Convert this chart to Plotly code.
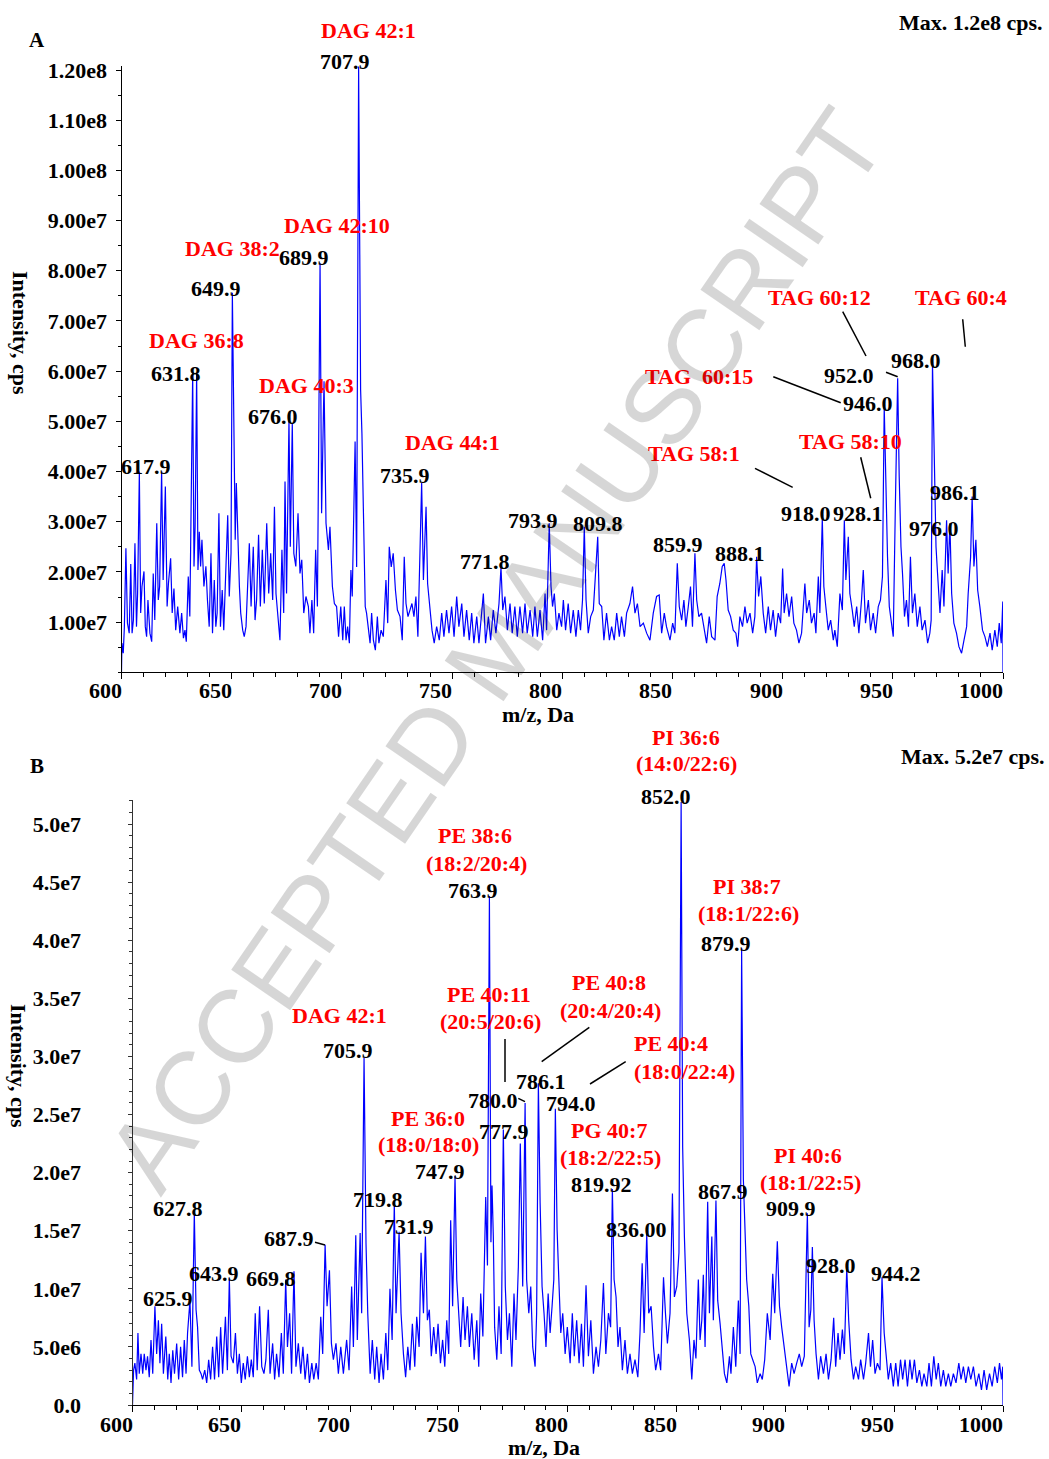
import plotly.graph_objects as go

# ---------------- data (m/z in Da, intensity in 1e6 cps) ----------------
A_SPECTRUM = [
 (600.0,0),(600.2,5.8),(600.8,3.8),(601.3,9.0),(602.0,24.7),(602.7,9.8),(603.5,7.8),(604.2,21.6),(604.8,7.8),(605.4,10.4),
 (606.1,25.7),(606.8,9.1),(607.3,15.7),(608.1,40.0),(608.7,11.8),(609.3,17.1),(610.2,20.1),(610.8,9.1),(611.4,7.1),(612.0,14.4),
 (612.9,7.8),(613.7,6.1),(614.4,19.7),(615.1,10.4),(616.0,29.7),(616.7,14.4),(617.3,17.1),(618.2,40.0),(618.9,18.4),(619.9,37.0),
 (620.7,13.1),(621.3,17.7),(622.3,22.7),(623.0,11.8),(623.8,16.7),(624.6,8.4),(625.5,13.1),(626.5,7.8),(627.3,11.8),(628.1,6.8),
 (628.8,8.4),(629.4,6.1),(630.3,19.1),(631.0,11.1),(632.3,59.6),(632.9,21.1),(633.4,29.0),(634.1,59.6),(634.7,20.4),(635.3,28.0),
 (635.9,21.1),(636.5,26.4),(637.4,17.1),(638.3,21.1),(639.0,14.4),(639.8,9.1),(640.6,23.7),(641.3,7.8),(642.1,18.4),(642.8,9.1),
 (643.4,11.8),(644.2,31.7),(644.9,9.1),(645.7,16.4),(646.4,8.4),(647.4,22.4),(648.2,31.3),(648.9,15.1),(649.7,23.7),(650.3,75.6),
 (651.1,37.0),(651.6,26.4),(652.1,37.7),(652.8,24.4),(653.5,17.1),(654.1,11.8),(655.0,8.4),(655.7,7.1),(656.5,9.1),(658.0,25.7),
 (658.8,13.1),(659.8,25.0),(660.6,10.4),(661.3,14.4),(662.2,27.4),(663.0,13.1),(663.9,24.4),(664.8,13.7),(665.9,29.7),(666.8,15.7),
 (667.7,23.7),(668.6,14.4),(669.4,33.0),(670.1,15.7),(670.9,11.8),(671.9,6.4),(672.8,24.4),(673.6,11.8),(674.2,38.0),(674.9,15.7),
 (676.0,50.3),(676.6,25.0),(677.5,49.6),(678.2,23.7),(679.1,21.1),(680.1,31.7),(681.0,19.7),(681.8,22.4),(682.7,11.8),(683.7,15.1),
 (684.8,13.1),(685.5,7.8),(686.4,14.4),(687.2,7.8),(688.1,24.4),(688.9,13.1),(690.1,81.5),(690.8,31.7),(691.9,58.0),(692.8,29.7),
 (693.9,24.4),(694.6,29.0),(695.7,17.1),(696.6,13.7),(697.6,13.1),(698.5,7.1),(699.5,13.1),(700.4,6.4),(701.1,13.1),(701.9,6.4),
 (702.6,9.1),(703.4,5.8),(704.1,20.4),(704.7,15.1),(706.0,46.0),(706.7,21.0),(707.6,120.7),(708.5,56.3),(709.1,47.6),(709.7,31.0),
 (710.6,13.1),(711.2,11.8),(712.0,8.4),(712.8,5.8),(713.5,11.8),(714.3,6.4),(715.2,4.4),(716.1,11.1),(716.8,5.8),(717.8,8.4),
 (718.8,7.1),(720.0,18.4),(720.8,9.8),(721.5,25.0),(722.4,21.0),(723.3,23.7),(724.3,16.4),(725.2,12.4),(726.4,11.1),(727.4,6.4),
 (728.3,23.0),(729.1,13.7),(730.0,11.1),(730.9,12.4),(731.8,13.7),(732.7,11.1),(733.6,15.1),(734.5,7.1),(735.4,21.0),(736.2,37.7),
 (737.0,18.4),(738.2,33.0),(738.9,17.7),(740.0,12.4),(740.9,8.4),(741.9,5.8),(743.0,9.1),(744.2,6.4),(745.3,11.8),(746.3,7.1),
 (747.5,12.4),(748.6,7.8),(749.8,13.1),(750.9,7.1),(752.1,15.1),(753.1,9.1),(754.4,13.7),(755.4,7.1),(756.6,12.4),(757.8,6.4),
 (758.9,11.8),(759.9,5.8),(761.2,11.1),(762.2,5.8),(763.4,11.8),(764.2,15.7),(765.2,5.8),(766.5,11.1),(767.5,6.4),(768.7,12.4),
 (769.9,7.8),(771.3,13.7),(772.2,21.0),(773.0,12.4),(774.0,15.1),(775.1,8.4),(776.3,13.7),(777.3,7.8),(778.5,13.1),(779.6,7.1),
 (780.8,13.1),(782.0,7.8),(783.1,13.7),(784.1,7.8),(785.4,12.4),(786.6,7.1),(787.6,13.1),(788.7,7.1),(789.9,12.4),(791.1,6.4),
 (792.2,15.7),(792.9,8.4),(794.1,29.7),(794.9,17.1),(795.6,13.1),(796.4,15.7),(797.5,8.4),(798.5,11.8),(799.7,9.1),(800.5,14.4),
 (801.5,8.4),(802.7,13.7),(803.8,7.8),(805.0,12.4),(806.2,7.1),(807.3,12.4),(808.3,8.4),(809.2,14.4),(810.0,29.0),(810.8,14.4),
 (811.8,7.8),(812.9,11.1),(814.1,12.4),(815.1,19.7),(816.1,27.0),(816.8,13.7),(817.9,13.1),(818.9,6.4),(820.1,11.8),(821.4,6.4),
 (822.4,9.1),(823.6,6.4),(824.7,11.8),(825.9,7.1),(826.9,11.1),(828.2,7.1),(829.2,11.8),(830.7,13.7),(831.9,17.1),(833.0,11.8),
 (834.1,13.7),(835.3,9.1),(836.8,9.8),(838.3,7.8),(839.8,6.4),(841.3,11.8),(842.8,15.1),(844.0,15.4),(845.1,7.8),(846.3,11.8),
 (847.3,9.1),(848.9,6.4),(850.1,9.8),(851.1,7.8),(852.2,21.7),(853.1,13.1),(854.2,10.4),(855.2,14.4),(856.1,9.1),(857.2,13.1),
 (858.2,17.1),(859.1,9.1),(860.2,23.7),(861.0,14.4),(862.0,11.1),(863.2,11.8),(864.3,9.1),(865.5,5.8),(866.7,11.1),(867.8,7.1),
 (869.3,6.4),(870.3,15.1),(871.5,17.7),(872.6,21.1),(873.5,21.7),(874.3,18.4),(875.3,12.4),(876.4,11.1),(877.6,8.4),(878.8,7.8),
 (879.6,5.1),(880.6,11.1),(881.8,9.1),(882.9,13.1),(883.9,9.8),(885.2,11.8),(886.4,7.8),(887.4,11.1),(888.2,23.0),(889.1,15.1),
 (890.1,19.1),(891.2,11.8),(892.3,7.8),(893.5,13.1),(894.5,8.4),(895.7,12.4),(896.8,7.1),(898.0,11.8),(899.1,9.8),(900.0,20.7),
 (900.7,11.8),(901.8,15.7),(902.9,11.1),(904.1,15.1),(905.1,9.8),(906.3,8.4),(907.4,5.8),(908.6,7.8),(910.1,17.7),(910.9,11.8),
 (912.1,14.4),(913.1,9.8),(914.3,11.8),(915.1,7.8),(916.2,19.1),(916.9,11.8),(918.0,30.7),(918.7,17.1),(919.6,13.1),(920.7,8.4),
 (921.8,10.4),(923.0,6.4),(923.7,8.4),(924.8,5.1),(926.0,15.7),(927.1,12.4),(928.0,30.3),(928.7,18.4),(929.8,27.0),(930.5,15.7),
 (931.6,12.4),(932.5,9.1),(933.6,13.1),(934.6,7.8),(935.8,14.4),(936.6,20.4),(937.6,9.8),(938.9,14.4),(939.9,8.4),(941.1,11.8),
 (942.2,7.8),(943.4,13.1),(944.4,14.4),(945.3,19.1),(946.1,52.9),(946.9,32.3),(947.6,23.0),(948.4,13.1),(949.3,9.8),(950.2,7.1),
 (951.1,31.7),(952.2,58.6),(952.9,39.0),(953.7,25.0),(954.4,19.7),(955.3,11.1),(956.2,14.4),(957.1,9.1),(958.0,23.0),(958.9,11.8),
 (960.0,15.7),(961.1,9.1),(962.3,13.1),(963.3,8.4),(964.6,10.4),(965.8,5.8),(966.8,7.8),(967.4,10.4),(968.0,61.6),(968.8,41.0),
 (969.6,25.0),(970.3,19.7),(971.4,11.8),(972.4,20.4),(973.2,13.1),(974.4,30.3),(975.1,19.7),(975.9,29.7),(976.7,15.7),(977.7,9.8),
 (978.9,7.8),(980.0,5.1),(981.2,3.8),(982.3,6.4),(983.5,9.1),(984.2,15.7),(985.3,23.0),(986.0,35.0),(986.8,21.1),(987.7,26.4),
 (988.5,16.4),(989.5,13.1),(990.7,8.4),(991.8,7.1),(992.9,5.1),(994.1,7.8),(995.1,4.4),(996.3,8.4),(997.4,5.1),(998.3,9.8),
 (999.2,5.8),(999.9,14.1),(1000.0,0),
]

B_SPECTRUM = [
 (600.0,0),(600.5,3.0),(601.1,3.6),(601.9,2.2),(602.5,6.2),(603.1,2.7),(603.9,4.4),(604.7,2.7),(605.4,4.4),(606.2,3.0),
 (606.9,4.2),(607.7,2.4),(608.5,5.6),(609.3,2.7),(610.3,8.5),(611.1,4.4),(611.9,7.3),(612.6,3.6),(613.4,7.0),(614.2,2.7),
 (615.3,5.9),(616.2,2.2),(616.9,4.4),(617.7,1.9),(618.5,4.7),(619.3,2.7),(620.3,5.3),(621.2,2.2),(622.1,5.0),(623.0,2.4),
 (623.8,5.6),(624.6,2.7),(625.3,6.2),(626.4,9.0),(627.3,3.3),(628.4,16.6),(629.2,8.2),(629.9,6.7),(630.7,3.0),(631.5,2.7),
 (632.2,2.2),(633.2,3.0),(634.1,1.9),(635.0,3.9),(635.9,2.2),(636.8,5.0),(637.7,2.2),(638.7,5.9),(639.6,2.4),(640.5,6.7),
 (641.4,2.7),(642.7,7.6),(643.6,3.0),(644.5,10.9),(645.3,4.2),(646.3,3.6),(647.3,6.2),(648.2,2.7),(649.1,4.4),(650.0,1.9),
 (650.9,3.6),(651.8,2.2),(652.8,4.2),(653.7,2.4),(654.6,3.9),(655.5,2.4),(656.4,7.9),(657.3,3.0),(658.4,8.5),(659.4,3.3),
 (660.4,2.7),(661.3,3.9),(662.4,8.2),(663.2,2.7),(664.4,5.3),(665.3,2.2),(666.2,4.4),(667.3,2.4),(668.4,6.2),(669.3,2.7),
 (670.4,10.8),(671.2,5.0),(672.2,7.9),(673.1,2.7),(674.2,11.5),(675.1,3.3),(676.2,5.3),(677.3,2.7),(678.3,5.0),(679.3,2.2),
 (680.4,4.4),(681.3,1.9),(682.4,3.6),(683.3,2.2),(684.4,3.6),(685.4,2.2),(686.5,7.6),(687.4,4.4),(688.5,13.8),(689.4,8.5),
 (690.5,11.6),(691.4,5.3),(692.3,3.9),(693.5,5.3),(694.6,2.7),(695.7,5.0),(696.9,2.7),(698.4,5.6),(699.5,3.0),(700.7,10.2),
 (701.5,5.0),(702.6,14.6),(703.3,5.6),(704.6,14.8),(705.3,7.9),(706.4,29.9),(707.3,13.9),(708.1,7.9),(709.2,2.7),(710.2,5.6),
 (711.3,2.2),(712.2,5.0),(713.3,1.9),(714.2,4.4),(715.3,2.2),(716.4,6.2),(717.3,3.0),(718.3,10.0),(719.3,5.6),(720.3,17.4),
 (721.1,7.9),(722.5,14.9),(723.4,7.9),(724.5,4.4),(725.5,2.4),(726.5,5.0),(727.5,3.0),(728.6,7.0),(729.7,3.3),(730.6,7.6),
 (731.7,5.0),(732.6,13.1),(733.7,7.9),(734.6,14.5),(735.5,7.3),(736.4,8.2),(737.3,4.2),(738.4,6.7),(739.5,4.4),(740.4,7.0),
 (741.5,3.6),(742.5,5.6),(743.5,3.3),(744.4,7.3),(745.3,4.4),(746.2,15.9),(747.1,8.5),(748.2,19.7),(749.0,10.8),(749.9,7.3),
 (750.8,5.0),(751.9,9.3),(752.8,5.6),(753.9,8.5),(754.8,5.0),(755.9,7.9),(757.0,3.9),(758.2,7.3),(759.1,3.3),(760.0,9.6),
 (761.0,5.9),(762.3,17.9),(763.1,12.0),(764.0,43.8),(764.7,14.0),(765.2,18.9),(765.8,14.5),(766.4,6.7),(767.4,3.9),(768.4,8.5),
 (769.4,4.4),(770.4,23.7),(771.3,10.2),(772.3,5.6),(773.2,7.9),(774.3,3.3),(775.3,9.6),(776.2,5.6),(777.3,11.9),(778.2,22.5),
 (779.3,10.2),(780.4,26.0),(781.1,10.8),(782.1,7.9),(783.0,10.2),(783.9,5.0),(785.0,3.3),(785.7,7.9),(786.5,27.7),(787.3,17.4),
 (788.2,10.2),(789.1,7.9),(790.0,5.0),(791.0,9.6),(791.9,6.2),(792.8,8.5),(793.6,10.8),(794.3,25.5),(795.1,15.1),(795.9,10.8),
 (796.8,6.2),(797.7,7.9),(798.8,4.4),(799.8,6.7),(801.1,3.6),(802.1,7.9),(803.0,4.2),(804.1,7.3),(805.2,3.6),(806.3,7.0),
 (807.2,3.3),(808.4,10.3),(809.5,4.2),(810.6,7.3),(811.8,2.7),(813.0,5.0),(814.1,3.3),(815.2,5.6),(816.4,10.5),(817.5,4.4),
 (818.7,7.9),(819.7,6.7),(820.5,18.6),(821.3,10.8),(822.2,9.3),(823.1,5.0),(824.0,6.7),(825.1,3.0),(826.3,5.6),(827.4,2.7),
 (828.6,4.4),(829.7,2.7),(830.9,3.9),(832.2,2.4),(833.2,6.2),(834.2,12.2),(835.1,6.2),(836.3,14.8),(837.2,7.9),(838.3,8.5),
 (839.4,5.0),(840.4,3.0),(841.7,4.4),(842.7,3.0),(844.0,11.0),(844.9,7.9),(845.8,5.3),(847.0,7.9),(848.1,18.2),(849.0,9.3),
 (850.1,10.2),(851.1,13.1),(852.1,51.9),(852.8,22.2),(853.6,14.5),(854.7,7.9),(855.9,5.6),(857.0,2.2),(858.0,5.6),(858.9,4.0),
 (860.0,10.8),(860.8,5.6),(861.6,7.3),(862.3,11.2),(863.1,5.0),(864.3,17.5),(865.1,7.9),(866.2,14.5),(866.9,7.3),(868.1,17.6),
 (868.9,9.0),(870.0,7.0),(871.1,4.2),(872.0,2.7),(873.1,1.9),(874.3,4.2),(875.0,2.7),(876.1,6.7),(877.2,3.3),(878.4,9.0),
 (879.2,4.4),(879.9,39.3),(880.7,19.4),(881.5,14.2),(882.2,10.8),(883.2,8.5),(884.1,4.4),(885.0,3.9),(886.1,3.3),(887.1,1.9),
 (888.4,2.7),(889.4,2.2),(890.5,3.9),(891.7,7.9),(893.0,5.6),(894.2,11.3),(895.1,7.9),(896.3,14.1),(897.3,8.5),(898.3,6.7),
 (899.4,5.0),(900.6,3.3),(901.7,1.6),(902.9,3.6),(904.0,2.7),(905.2,3.6),(906.4,4.4),(907.5,3.3),(908.7,4.2),(910.1,16.5),
 (910.9,6.7),(911.7,8.2),(912.4,13.6),(913.2,7.3),(914.1,4.4),(915.2,2.2),(916.2,4.2),(917.5,2.7),(918.7,4.4),(919.8,2.2),
 (921.0,3.9),(922.2,7.5),(923.1,3.3),(924.2,6.2),(925.1,3.9),(926.2,6.5),(927.1,4.4),(928.2,11.8),(929.1,7.3),(930.2,3.9),
 (931.3,2.2),(932.3,3.3),(933.6,2.2),(934.6,3.9),(935.9,2.2),(936.9,3.6),(938.2,6.2),(939.1,3.3),(940.1,5.6),(941.2,2.7),
 (942.3,3.6),(943.5,3.0),(944.4,11.0),(945.4,6.2),(946.3,3.9),(947.3,2.2),(948.4,3.6),(949.6,1.6),(950.7,3.6),(951.8,1.6),
 (952.9,3.9),(953.9,2.2),(955.0,3.9),(956.1,1.6),(957.2,3.9),(958.2,2.2),(959.3,3.9),(960.4,1.9),(961.6,3.0),(962.7,1.6),
 (963.7,2.7),(965.0,1.6),(966.0,3.6),(967.1,1.6),(968.2,4.2),(969.3,2.2),(970.3,3.6),(971.4,1.6),(972.6,3.0),(973.7,1.6),
 (974.9,2.7),(976.0,1.6),(977.2,2.7),(978.4,1.9),(979.7,3.6),(980.7,2.2),(981.8,3.3),(982.9,1.9),(984.1,3.3),(985.2,2.2),
 (986.4,3.3),(987.6,1.6),(988.9,2.7),(990.1,1.3),(991.3,3.0),(992.5,1.3),(993.8,2.7),(995.0,1.6),(996.2,3.3),(997.4,1.9),
 (998.4,3.6),(999.3,2.2),(999.9,3.3),(1000.0,0),
]

X_TICKS = [600, 650, 700, 750, 800, 850, 900, 950, 1000]
A_YTICKVALS = [1e7, 2e7, 3e7, 4e7, 5e7, 6e7, 7e7, 8e7, 9e7, 1.0e8, 1.1e8, 1.2e8]
A_YTICKTEXT = ["1.00e7", "2.00e7", "3.00e7", "4.00e7", "5.00e7", "6.00e7", "7.00e7",
               "8.00e7", "9.00e7", "1.00e8", "1.10e8", "1.20e8"]
B_YTICKVALS = [0, 5e6, 1e7, 1.5e7, 2e7, 2.5e7, 3e7, 3.5e7, 4e7, 4.5e7, 5e7]
B_YTICKTEXT = ["0.0", "5.0e6", "1.0e7", "1.5e7", "2.0e7", "2.5e7", "3.0e7", "3.5e7",
               "4.0e7", "4.5e7", "5.0e7"]

RED, BLK = "#ff0000", "#000000"
# (text, x px, y px, colour, anchor)
LABELS = [
 # ---- panel A ----
 ("DAG 42:1", 368, 31, RED, "center"), ("DAG 42:10", 337, 225, RED, "center"),
 ("DAG 38:2", 232.5, 248, RED, "center"), ("DAG 36:8", 196.7, 340, RED, "center"),
 ("DAG 40:3", 306.7, 385, RED, "center"), ("DAG 44:1", 452.5, 442.5, RED, "center"),
 ("TAG 60:12", 819, 298, RED, "center"), ("TAG 60:4", 961, 298, RED, "center"),
 ("TAG\u00a0 60:15", 699, 376.7, RED, "center"), ("TAG 58:1", 694, 453, RED, "center"),
 ("TAG 58:10", 850, 441.7, RED, "center"),
 ("707.9", 344.7, 61.7, BLK, "center"), ("689.9", 304, 257, BLK, "center"),
 ("649.9", 216, 288, BLK, "center"), ("631.8", 176, 373, BLK, "center"),
 ("676.0", 272.5, 416.7, BLK, "center"), ("617.9", 146, 466.7, BLK, "center"),
 ("735.9", 405, 475, BLK, "center"), ("771.8", 484.7, 561.7, BLK, "center"),
 ("793.9", 533, 520, BLK, "center"), ("809.8", 598, 523, BLK, "center"),
 ("859.9", 677.5, 545, BLK, "center"), ("888.1", 740, 553, BLK, "center"),
 ("918.0", 806, 513.3, BLK, "center"), ("928.1", 857.5, 513.3, BLK, "center"),
 ("952.0", 849, 375, BLK, "center"), ("968.0", 916, 360, BLK, "center"),
 ("946.0", 867.5, 403.3, BLK, "center"), ("986.1", 955, 493, BLK, "center"),
 ("976.0", 933.8, 528, BLK, "center"),
 # ---- panel B ----
 ("PI 36:6", 686, 737, RED, "center"), ("(14:0/22:6)", 686, 764, RED, "center"),
 ("PE 38:6", 475, 835, RED, "center"), ("(18:2/20:4)", 476, 863, RED, "center"),
 ("PI 38:7", 747, 886.7, RED, "center"), ("(18:1/22:6)", 748, 913, RED, "center"),
 ("DAG 42:1", 339, 1015.6, RED, "center"),
 ("PE 40:11", 489, 995, RED, "center"), ("(20:5/20:6)", 490, 1021.7, RED, "center"),
 ("PE 40:8", 609, 982.5, RED, "center"), ("(20:4/20:4)", 610, 1010, RED, "center"),
 ("PE 40:4", 631.7, 1043.5, RED, "left"), ("(18:0/22:4)", 631.7, 1071, RED, "left"),
 ("PE 36:0", 427.5, 1118.3, RED, "center"), ("(18:0/18:0)", 428, 1144, RED, "center"),
 ("PG 40:7", 609, 1130, RED, "center"), ("(18:2/22:5)", 610, 1157, RED, "center"),
 ("PI 40:6", 808, 1155.8, RED, "center"), ("(18:1/22:5)", 810, 1182, RED, "center"),
 ("852.0", 666, 796, BLK, "center"), ("763.9", 473.5, 891, BLK, "center"),
 ("879.9", 726, 943.5, BLK, "center"), ("705.9", 348, 1050, BLK, "center"),
 ("786.1", 541, 1081, BLK, "center"), ("780.0", 493, 1100, BLK, "center"),
 ("794.0", 571, 1103.5, BLK, "center"), ("777.9", 504, 1131.7, BLK, "center"),
 ("747.9", 440, 1171.7, BLK, "center"), ("819.92", 601.3, 1184.5, BLK, "center"),
 ("719.8", 378, 1199.5, BLK, "center"), ("731.9", 408.7, 1226, BLK, "center"),
 ("836.00", 636.7, 1229.5, BLK, "center"), ("867.9", 723, 1191.7, BLK, "center"),
 ("909.9", 791, 1208.3, BLK, "center"), ("928.0", 831, 1265, BLK, "center"),
 ("944.2", 896, 1273.3, BLK, "center"), ("627.8", 178, 1208.3, BLK, "center"),
 ("687.9", 289, 1238.3, BLK, "center"), ("643.9", 213.8, 1273.3, BLK, "center"),
 ("669.8", 270.5, 1278.3, BLK, "center"), ("625.9", 168, 1298.3, BLK, "center"),
]

# connector lines (x0, y0, x1, y1) in pixels
CONNECTORS = [
 (842.7, 311.7, 866, 356), (962.7, 319.3, 965.3, 346.7), (773.3, 376.7, 840.7, 402.7),
 (755, 468.3, 792.7, 487.3), (860.7, 457.3, 870.7, 498.3), (886, 372.3, 897.7, 376.7),
 (505, 1039, 505, 1082), (589.3, 1027.3, 541.7, 1061.7), (625.7, 1061.7, 590, 1084),
 (315, 1242.3, 325, 1245), (518.3, 1098.3, 525, 1101.7),
]

# ---------------- figure ----------------
W, H = 1049, 1459
SERIF = "Times New Roman, Liberation Serif, serif"


def px(x, y):
    return x / W, 1 - y / H


a_mz = [p[0] for p in A_SPECTRUM]
a_int = [p[1] * 1e6 for p in A_SPECTRUM]
b_mz = [p[0] for p in B_SPECTRUM]
b_int = [p[1] * 1e6 for p in B_SPECTRUM]

fig = go.Figure()
fig.add_trace(go.Scatter(x=a_mz, y=a_int, mode="lines", line=dict(color="#0000ff", width=1.2),
                         xaxis="x", yaxis="y", hoverinfo="skip", showlegend=False))
fig.add_trace(go.Scatter(x=b_mz, y=b_int, mode="lines", line=dict(color="#0000ff", width=1.2),
                         xaxis="x2", yaxis="y2", hoverinfo="skip", showlegend=False))

tickfont = dict(family=SERIF, size=22, color="black", weight="bold")
common_x = dict(range=[600, 1000], showline=True, linecolor="black", linewidth=1,
                ticks="outside", ticklen=6, tickcolor="black", tickmode="array",
                tickvals=X_TICKS, showticklabels=False, showgrid=False, zeroline=False,
                automargin=False,
                minor=dict(tickmode="linear", tick0=600, dtick=10, ticklen=3.5,
                           ticks="outside", tickcolor="black", showgrid=False))

fig.update_layout(
    width=W, height=H, margin=dict(l=0, r=0, t=0, b=0, pad=0, autoexpand=False),
    paper_bgcolor="white", plot_bgcolor="white", showlegend=False,
    xaxis=dict(domain=[121.5 / W, 1003 / W], anchor="y", **common_x),
    yaxis=dict(domain=[(H - 672.3) / H, (H - 66) / H], anchor="x", range=[0, 1.208e8],
               showline=True, linecolor="black", linewidth=1, ticks="outside", ticklen=5,
               tickcolor="black", tickmode="array", tickvals=A_YTICKVALS,
               ticktext=A_YTICKTEXT, tickfont=tickfont, ticklabelstandoff=4,
               showgrid=False, zeroline=False, automargin=False,
               minor=dict(tickmode="linear", tick0=0, dtick=5e6, ticklen=3,
                          ticks="outside", tickcolor="black", showgrid=False)),
    xaxis2=dict(domain=[132.5 / W, 1003 / W], anchor="y2", **common_x),
    yaxis2=dict(domain=[(H - 1405) / H, (H - 800) / H], anchor="x2", range=[0, 5.207e7],
                showline=True, linecolor="#333333", linewidth=1, ticks="outside", ticklen=4,
                tickcolor="#333333", tickmode="array", tickvals=B_YTICKVALS,
                ticktext=B_YTICKTEXT, tickfont=tickfont, ticklabelstandoff=42,
                showgrid=False, zeroline=False, automargin=False,
                minor=dict(tickmode="linear", tick0=0, dtick=1e6, ticklen=2.5,
                           ticks="outside", tickcolor="#333333", showgrid=False)),
)

ann = []
# x tick labels, right-aligned at the tick as in the original
for v in X_TICKS:
    ann.append(dict(x=v, xref="x", y=px(0, 690)[1], yref="paper", text=str(v),
                    showarrow=False, xanchor="right", yanchor="middle", xshift=2,
                    font=tickfont))
    ann.append(dict(x=v, xref="x2", y=px(0, 1424)[1], yref="paper", text=str(v),
                    showarrow=False, xanchor="right", yanchor="middle", xshift=2,
                    font=tickfont))

# axis titles, panel letters, max labels
def text_at(t, x, y, size=22, color="black", xanchor="center", angle=0, family=SERIF,
            weight="bold"):
    X, Y = px(x, y)
    ann.append(dict(x=X, y=Y, xref="paper", yref="paper", text=t, showarrow=False,
                    xanchor=xanchor, yanchor="middle", textangle=angle,
                    font=dict(family=family, size=size, color=color, weight=weight)))

text_at("m/z, Da", 537.5, 715)
text_at("m/z, Da", 544, 1447)
text_at("Intensity, cps", 21, 333, angle=90)
text_at("Intensity, cps", 19, 1066, angle=90)
text_at("A", 37, 39.5, size=21)
text_at("B", 37, 765.5, size=21)
text_at("Max. 1.2e8 cps.", 1045, 22.5, xanchor="right")
text_at("Max. 5.2e7 cps.", 1047, 756, xanchor="right")

for t, x, y, c, anc in LABELS:
    text_at(t, x, y, color=c, xanchor=anc)

# watermark
text_at("ACCEPTED MANUSCRIPT", 495, 650, size=104, color="rgba(0,0,0,0.16)",
        angle=-55.4, family="Liberation Sans, Arial, sans-serif", weight="normal")

fig.update_layout(annotations=ann)

shapes = []
for x0, y0, x1, y1 in CONNECTORS:
    X0, Y0 = px(x0, y0)
    X1, Y1 = px(x1, y1)
    shapes.append(dict(type="line", xref="paper", yref="paper", x0=X0, y0=Y0, x1=X1, y1=Y1,
                       line=dict(color="black", width=1.5)))
fig.update_layout(shapes=shapes)

fig.write_html("out.html", include_plotlyjs=True, config={"displayModeBar": False})
